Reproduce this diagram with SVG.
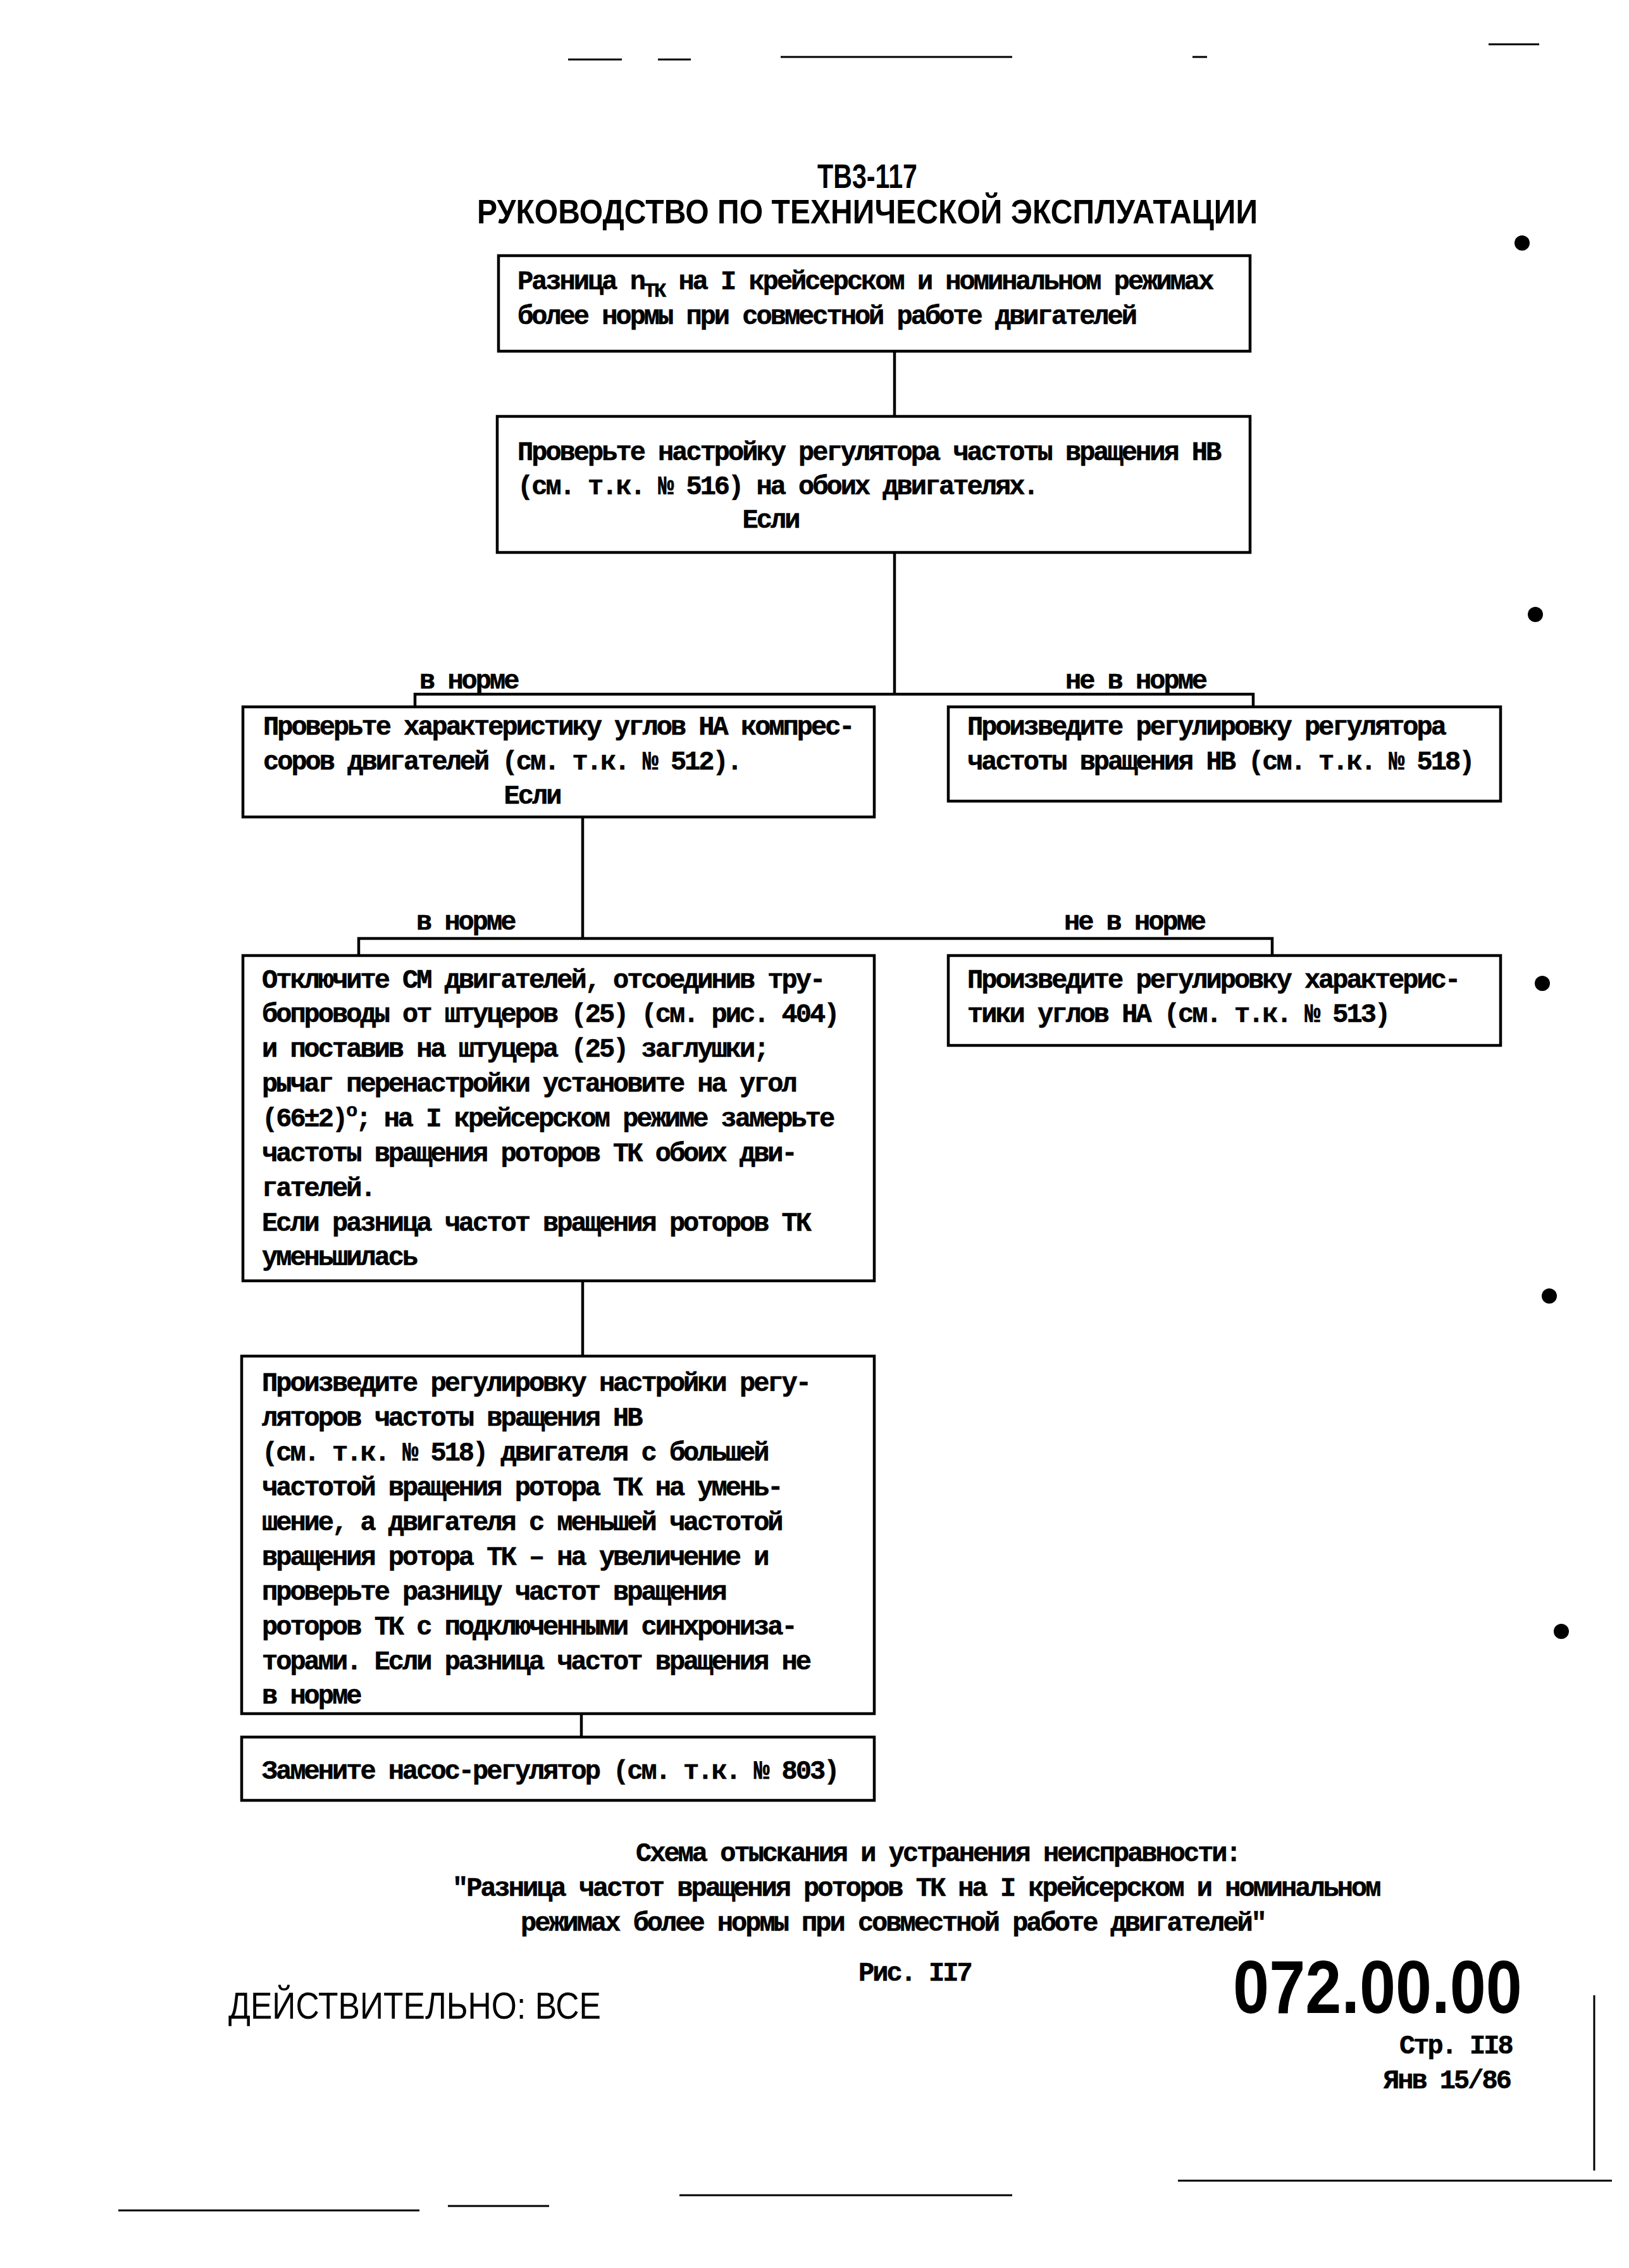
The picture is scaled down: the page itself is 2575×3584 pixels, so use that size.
<svg xmlns="http://www.w3.org/2000/svg" width="2575" height="3584" viewBox="0 0 2575 3584">
<style>
.box{fill:none;stroke:#000;stroke-width:4.5}
.conn{fill:none;stroke:#000;stroke-width:4.5}
.t{font-family:"Liberation Mono","DejaVu Sans Mono",monospace;font-size:42px;letter-spacing:-3px;font-weight:bold;fill:#000;stroke:#000;stroke-width:0.6}
.h{font-family:"Liberation Sans","DejaVu Sans",sans-serif;font-weight:bold;fill:#000}
.s{font-family:"Liberation Sans","DejaVu Sans",sans-serif;fill:#000}
.noise{stroke:#000;stroke-width:3;fill:none}
</style>
<rect width="2575" height="3584" fill="#fff"/>
<g id="header">
<text class="h" x="1371" y="297" font-size="54" text-anchor="middle" textLength="158" lengthAdjust="spacingAndGlyphs">ТВ3-117</text>
<text class="h" x="754" y="353" font-size="54" textLength="1234" lengthAdjust="spacingAndGlyphs">РУКОВОДСТВО ПО ТЕХНИЧЕСКОЙ ЭКСПЛУАТАЦИИ</text>
</g>
<g id="connectors">
<path class="conn" d="M1414 555V658"/>
<path class="conn" d="M1414 873V1097"/>
<path class="conn" d="M656 1117V1097H1981V1117"/>
<path class="conn" d="M921 1291V1483"/>
<path class="conn" d="M567 1510V1483H2011V1510"/>
<path class="conn" d="M921 2024V2143"/>
<path class="conn" d="M919 2708V2745"/>
<text class="t" x="663" y="1088">в норме</text>
<text class="t" x="1684" y="1088">не в норме</text>
<text class="t" x="658" y="1469">в норме</text>
<text class="t" x="1682" y="1469">не в норме</text>
</g>
<g id="n1">
<rect class="box" x="788" y="404" width="1188" height="151"/>
<text class="t" x="818" y="457">Разница n<tspan dy="12" font-size="32">ТК</tspan><tspan dy="-12"> на I крейсерском и номинальном режимах</tspan></text>
<text class="t" x="818" y="512">более нормы при совместной работе двигателей</text>
</g>
<g id="n2">
<rect class="box" x="786" y="658" width="1190" height="215"/>
<text class="t" x="818" y="727">Проверьте настройку регулятора частоты вращения НВ</text>
<text class="t" x="818" y="781">(см. т.к. № 516) на обоих двигателях.</text>
<text class="t" x="1218" y="834" text-anchor="middle">Если</text>
</g>
<g id="n3">
<rect class="box" x="384" y="1117" width="998" height="174"/>
<text class="t" x="416" y="1161">Проверьте характеристику углов НА компрес-</text>
<text class="t" x="416" y="1216">соров двигателей (см. т.к. № 512).</text>
<text class="t" x="841" y="1270" text-anchor="middle">Если</text>
</g>
<g id="n4">
<rect class="box" x="1499" y="1117" width="873" height="149"/>
<text class="t" x="1529" y="1161">Произведите регулировку регулятора</text>
<text class="t" x="1529" y="1216">частоты вращения НВ (см. т.к. № 518)</text>
</g>
<g id="n5">
<rect class="box" x="384" y="1510" width="998" height="514"/>
<text class="t" x="414" y="1561">Отключите СМ двигателей, отсоединив тру-</text>
<text class="t" x="414" y="1615">бопроводы от штуцеров (25) (см. рис. 404)</text>
<text class="t" x="414" y="1670">и поставив на штуцера (25) заглушки;</text>
<text class="t" x="414" y="1725">рычаг перенастройки установите на угол</text>
<text class="t" x="414" y="1780">(66±2)<tspan dy="-16" font-size="30">о</tspan><tspan dy="16">; на I крейсерском режиме замерьте</tspan></text>
<text class="t" x="414" y="1835">частоты вращения роторов ТК обоих дви-</text>
<text class="t" x="414" y="1890">гателей.</text>
<text class="t" x="414" y="1945">Если разница частот вращения роторов ТК</text>
<text class="t" x="414" y="1999">уменьшилась</text>
</g>
<g id="n6">
<rect class="box" x="1499" y="1510" width="873" height="142"/>
<text class="t" x="1529" y="1561">Произведите регулировку характерис-</text>
<text class="t" x="1529" y="1615">тики углов НА (см. т.к. № 513)</text>
</g>
<g id="n7">
<rect class="box" x="382" y="2143" width="1000" height="565"/>
<text class="t" x="414" y="2198">Произведите регулировку настройки регу-</text>
<text class="t" x="414" y="2253">ляторов частоты вращения НВ</text>
<text class="t" x="414" y="2308">(см. т.к. № 518) двигателя с большей</text>
<text class="t" x="414" y="2363">частотой вращения ротора ТК на умень-</text>
<text class="t" x="414" y="2418">шение, а двигателя с меньшей частотой</text>
<text class="t" x="414" y="2473">вращения ротора ТК – на увеличение и</text>
<text class="t" x="414" y="2528">проверьте разницу частот вращения</text>
<text class="t" x="414" y="2583">роторов ТК с подключенными синхрониза-</text>
<text class="t" x="414" y="2638">торами. Если разница частот вращения не</text>
<text class="t" x="414" y="2692">в норме</text>
</g>
<g id="n8">
<rect class="box" x="382" y="2745" width="1000" height="100"/>
<text class="t" x="414" y="2811">Замените насос-регулятор (см. т.к. № 803)</text>
</g>
<g id="caption">
<text class="t" x="1005" y="2941">Схема отыскания и устранения неисправности:</text>
<text class="t" x="715" y="2996">"Разница частот вращения роторов ТК на I крейсерском и номинальном</text>
<text class="t" x="823" y="3051">режимах более нормы при совместной работе двигателей"</text>
<text class="t" x="1357" y="3130">Рис. II7</text>
</g>
<g id="footer">
<text class="s" x="361" y="3190" font-size="60" textLength="589" lengthAdjust="spacingAndGlyphs">ДЕЙСТВИТЕЛЬНО: ВСЕ</text>
<text class="h" x="1949" y="3181" font-size="118" textLength="457" lengthAdjust="spacingAndGlyphs">072.00.00</text>
<text class="t" x="2212" y="3245">Стр. II8</text>
<text class="t" x="2187" y="3300">Янв 15/86</text>
</g>
<g id="scan-marks">
<circle cx="2406" cy="384" r="12"/>
<circle cx="2427" cy="971" r="12"/>
<circle cx="2438" cy="1554" r="12"/>
<circle cx="2449" cy="2048" r="12"/>
<circle cx="2468" cy="2578" r="12"/>
<path class="noise" d="M898 94H983M1040 94H1092M1234 90H1600M1885 90H1908M2353 70H2433"/>
<path class="noise" d="M187 3493H663M708 3486H868M1074 3469H1600M1862 3446H2548"/>
<path class="noise" d="M2520 3153V3430"/>
</g>
</svg>
